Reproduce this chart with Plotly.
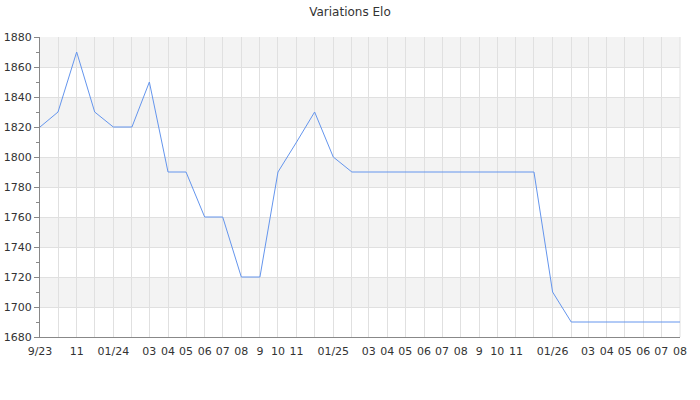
import plotly.graph_objects as go

months = [
    "2023-09", "2023-10", "2023-11", "2023-12",
    "2024-01", "2024-02", "2024-03", "2024-04", "2024-05", "2024-06",
    "2024-07", "2024-08", "2024-09", "2024-10", "2024-11", "2024-12",
    "2025-01", "2025-02", "2025-03", "2025-04", "2025-05", "2025-06",
    "2025-07", "2025-08", "2025-09", "2025-10", "2025-11", "2025-12",
    "2026-01", "2026-02", "2026-03", "2026-04", "2026-05", "2026-06",
    "2026-07", "2026-08",
]
elo = [
    1820, 1830, 1870, 1830,
    1820, 1820, 1850, 1790, 1790, 1760,
    1760, 1720, 1720, 1790, 1810, 1830,
    1800, 1790, 1790, 1790, 1790, 1790,
    1790, 1790, 1790, 1790, 1790, 1790,
    1710, 1690, 1690, 1690, 1690, 1690,
    1690, 1690,
]
tick_months = [
    "2023-09", "2023-11", "2024-01", "2024-03", "2024-04", "2024-05",
    "2024-06", "2024-07", "2024-08", "2024-09", "2024-10", "2024-11",
    "2025-01", "2025-03", "2025-04", "2025-05", "2025-06", "2025-07",
    "2025-08", "2025-09", "2025-10", "2025-11", "2026-01", "2026-03",
    "2026-04", "2026-05", "2026-06", "2026-07", "2026-08",
]
tick_labels = [
    "9/23", "11", "01/24", "03", "04", "05",
    "06", "07", "08", "9", "10", "11",
    "01/25", "03", "04", "05", "06", "07",
    "08", "9", "10", "11", "01/26", "03",
    "04", "05", "06", "07", "08",
]
y_min, y_max, y_step = 1680, 1880, 20

x = [m + "-01" for m in months]
fig = go.Figure()
fig.add_trace(go.Scatter(x=x, y=elo, mode="lines",
                         line=dict(color="#6495ED", width=1),
                         hoverinfo="x+y", showlegend=False))

shapes = []
for i, lo in enumerate(range(y_min, y_max, y_step)):
    if i % 2 == 1:
        shapes.append(dict(type="rect", xref="paper", yref="y", x0=0, x1=1,
                           y0=lo, y1=lo + y_step, fillcolor="#f3f3f3",
                           line=dict(width=0), layer="below"))

fig.update_layout(
    width=700, height=400,
    margin=dict(l=40, r=20, t=37, b=63, autoexpand=False),
    paper_bgcolor="white", plot_bgcolor="white",
    font=dict(family="DejaVu Sans", size=11, color="#333"),
    title=dict(text="Variations Elo", x=0.5, xanchor="center",
               y=1 - 12 / 400, yanchor="middle", yref="container",
               automargin=False, font=dict(size=12, color="#333")),
    shapes=shapes,
    xaxis=dict(
        type="date", automargin=False,
        range=[x[0], x[-1]],
        tickvals=[m + "-01" for m in tick_months],
        ticktext=tick_labels,
        showgrid=True, gridcolor="#e0e0e0", gridwidth=1,
        minor=dict(dtick="M1", tick0=x[0], showgrid=True,
                   gridcolor="#e0e0e0", gridwidth=1),
        showline=True, linecolor="#888", linewidth=1,
        ticks="", tickangle=0, ticklabelstandoff=4,
        tickfont=dict(size=11, color="#333"),
        zeroline=False, mirror=False,
    ),
    yaxis=dict(
        automargin=False,
        range=[y_min, y_max], dtick=y_step, tick0=y_min,
        showgrid=True, gridcolor="#e0e0e0", gridwidth=1,
        showline=True, linecolor="#888", linewidth=1,
        ticks="outside", ticklen=5, tickcolor="#888",
        minor=dict(dtick=y_step / 2, ticks="outside", ticklen=3,
                   tickcolor="#888", showgrid=False),
        tickfont=dict(size=11, color="#333"),
        zeroline=False,
    ),
)
fig.add_shape(type="line", xref="paper", yref="paper", x0=1, x1=1, y0=0, y1=1,
              line=dict(color="#e0e0e0", width=1), layer="below")

fig.write_html("out.html", config={"displayModeBar": False},
               post_script="document.body.style.margin='0';")
